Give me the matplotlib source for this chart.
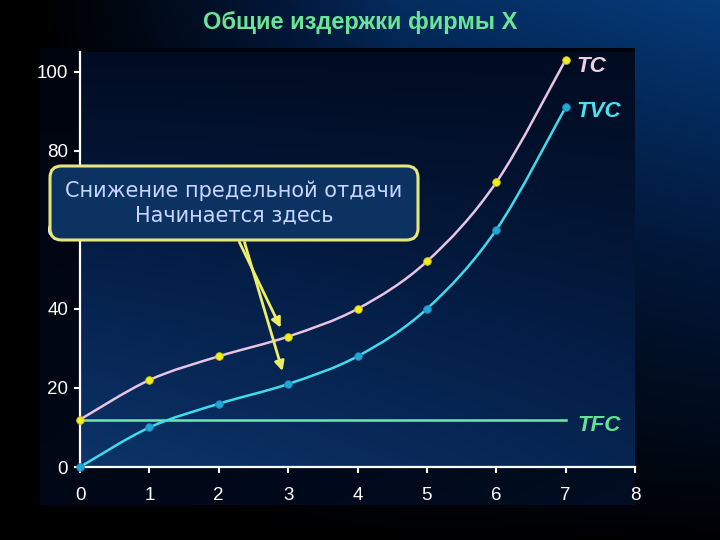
import numpy as np
import matplotlib
matplotlib.use('Agg')
import matplotlib.pyplot as plt
from matplotlib.path import Path
from matplotlib.patches import PathPatch, FancyBboxPatch
from matplotlib.colors import LinearSegmentedColormap

# data
output = [0, 1, 2, 3, 4, 5, 6, 7]
tvc = [0, 10, 16, 21, 28, 40, 60, 91]
tfc = 12
tc = [v + tfc for v in tvc]
x_ticks = [0, 1, 2, 3, 4, 5, 6, 7, 8]
y_ticks = [0, 20, 40, 60, 80, 100]
title = 'Общие издержки фирмы X'
note = 'Снижение предельной отдачи\nНачинается здесь'

TICK_FONT = ['Liberation Sans Narrow', 'Liberation Sans', 'DejaVu Sans']
LABEL_FONT = ['Liberation Sans', 'DejaVu Sans']


def smooth_path(xs, ys):
    # Catmull-Rom through the points, drawn as cubic Bezier segments
    p = np.column_stack([xs, ys]).astype(float)
    pts = np.vstack([p[0], p, p[-1]])
    verts = [p[0]]
    codes = [Path.MOVETO]
    for i in range(1, len(pts) - 2):
        c1 = pts[i] + (pts[i + 1] - pts[i - 1]) / 6
        c2 = pts[i + 1] - (pts[i + 2] - pts[i]) / 6
        verts += [c1, c2, pts[i + 1]]
        codes += [Path.CURVE4] * 3
    return Path(verts, codes)


def gradient(axes, shade, colors):
    cmap = LinearSegmentedColormap.from_list('g', colors)
    axes.imshow(shade, cmap=cmap, vmin=0, vmax=1, aspect='auto', extent=[0, 1, 0, 1],
                origin='lower', transform=axes.transAxes, zorder=-1)


fig = plt.figure(figsize=(7.2, 5.4), dpi=100)
gx, gy = np.meshgrid(np.linspace(0, 1, 200), np.linspace(0, 1, 150))

# slide background: black on the left and bottom, blue toward the top right
bg = fig.add_axes([0, 0, 1, 1], zorder=-10)
gradient(bg, np.clip(np.clip(gx * 2.0 - 0.12, 0, 1) ** 0.9 * (0.55 * gy + 0.45 * gx) * gy ** 0.6, 0, 1),
         ['#000000', '#02183a', '#063a78'])
bg.axis('off')

# dark chart panel
panel = fig.add_axes([40 / 720, 1 - 505 / 540, 595 / 720, 457 / 540], zorder=-5)
gradient(panel, np.clip(0.15 + 0.5 * (1 - gy) * (0.4 + 0.6 * gx), 0, 1), ['#000208', '#010a1c', '#041630'])
panel.axis('off')

ax = fig.add_axes([80 / 720, 1 - 467 / 540, 555 / 720, (105 * 3.953) / 540])
gradient(ax, np.clip((1 - gy) ** 1.2 * (1 - 0.45 * gx) + 0.05, 0, 1), ['#010a1e', '#05204a', '#0c3266'])
ax.set_xlim(0, 8)
ax.set_ylim(0, 105)

# curves
ax.add_patch(PathPatch(smooth_path(output, tc), fill=False, ec='#e8c4e4', lw=1.8, zorder=3, clip_on=False))
ax.add_patch(PathPatch(smooth_path(output, tvc), fill=False, ec='#3fdcf0', lw=1.8, zorder=3, clip_on=False))
ax.plot([output[0], output[-1]], [tfc, tfc], color='#72e8a4', lw=1.8, zorder=2)

ax.plot(output, tc, 'o', ms=5.5, mfc='#f2ee22', mec='#c8c010', mew=0.6, zorder=4, clip_on=False)
ax.plot(output, tvc, 'o', ms=5.5, mfc='#22a8d8', mec='#1888b8', mew=0.6, zorder=4, clip_on=False)

ax.text(7.16, 101.3, 'TC', color='#f2cce0', fontsize=16, fontweight='bold', fontstyle='italic',
        family=LABEL_FONT, ha='left', va='center', clip_on=False)
ax.text(7.16, 90, 'TVC', color='#44e2f2', fontsize=16, fontweight='bold', fontstyle='italic',
        family=LABEL_FONT, ha='left', va='center', clip_on=False)
ax.text(7.17, 10.6, 'TFC', color='#62e494', fontsize=16, fontweight='bold', fontstyle='italic',
        family=LABEL_FONT, ha='left', va='center', clip_on=False)

# axes styling
for side in ['top', 'right']:
    ax.spines[side].set_visible(False)
for side in ['left', 'bottom']:
    ax.spines[side].set_color('white')
    ax.spines[side].set_linewidth(1.6)
ax.set_xticks(x_ticks)
ax.set_yticks(y_ticks)
ax.tick_params(axis='both', colors='white', width=1.5, length=4.5, labelsize=13.5)
ax.tick_params(axis='x', pad=10)
ax.tick_params(axis='y', pad=4)
for lab in ax.get_xticklabels() + ax.get_yticklabels():
    lab.set_family(TICK_FONT)

fig.text(0.5, 1 - 22 / 540, title, color='#6ae496', fontsize=17, fontweight='bold',
         family=LABEL_FONT, ha='center', va='center')

# callout box with arrows
ax.annotate('', xy=(2.91, 34.6), xytext=(2.28, 57.5),
            arrowprops=dict(arrowstyle='-|>', color='#eeee66', lw=2, mutation_scale=14), zorder=5)
ax.annotate('', xy=(2.93, 23.6), xytext=(2.36, 57.5),
            arrowprops=dict(arrowstyle='-|>', color='#eeee66', lw=2, mutation_scale=14), zorder=5)

box = FancyBboxPatch((50 / 720, 1 - 240 / 540), 368 / 720, 74 / 540,
                     boxstyle='round,pad=0,rounding_size=0.016', mutation_aspect=720 / 540,
                     transform=fig.transFigure, fc='#0c3262', ec='#e6e67a', lw=2.2, zorder=6)
fig.add_artist(box)
fig.text(234 / 720, 1 - 203 / 540, note, color='#c8d6ff', fontsize=15, family=['DejaVu Sans'],
         ha='center', va='center', linespacing=1.25, zorder=7)

fig.savefig('out.png', dpi=100, facecolor='black')
